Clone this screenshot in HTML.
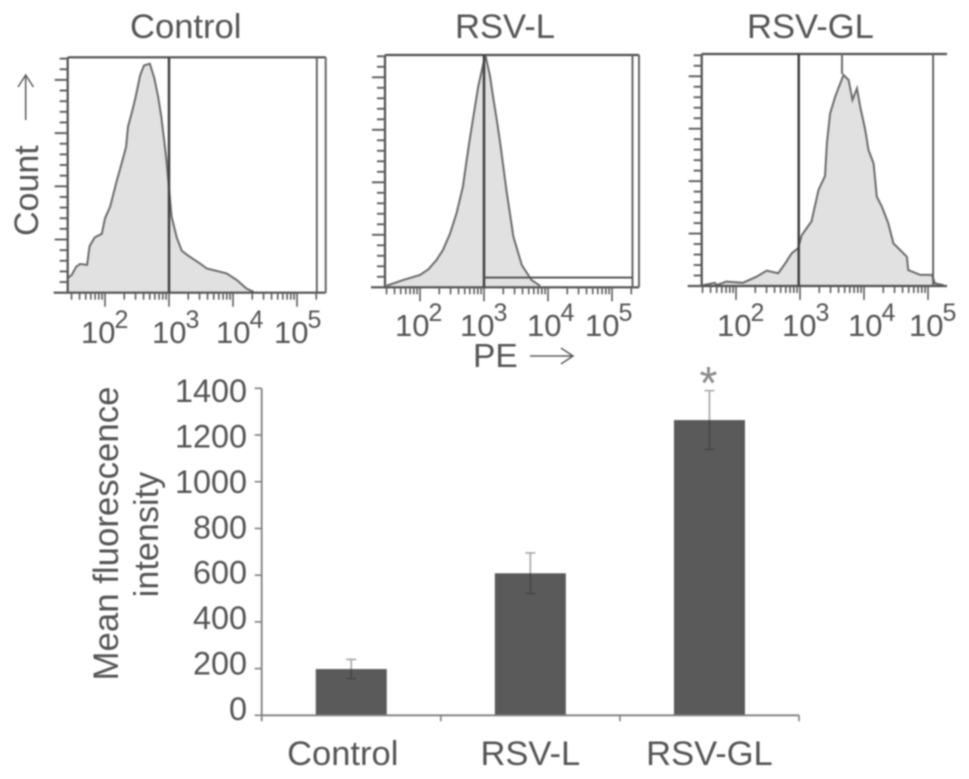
<!DOCTYPE html>
<html lang="en">
<head>
<meta charset="utf-8">
<title>Flow cytometry histograms and mean fluorescence intensity</title>
<style>
html,body{margin:0;padding:0;background:#fff;width:969px;height:779px;overflow:hidden}
svg{display:block;filter:blur(0.7px)}
text{font-family:"Liberation Sans",sans-serif;fill:#555}
</style>
</head>
<body>
<svg id="figure" xmlns="http://www.w3.org/2000/svg" width="969" height="779" viewBox="0 0 969 779">
  <text x="130" y="38" font-size="34.6">Control</text>
  <text x="455" y="38" font-size="34.6">RSV-L</text>
  <text x="747" y="38" font-size="34.6">RSV-GL</text>
  <text transform="translate(38 236) rotate(-90)" font-size="34">Count</text>
  <g fill="none" stroke="#5c5c5c" stroke-width="1.5">
    <path d="M25.7 120V76M18 87L25.7 75L33.4 87"/>
  </g>
  <text x="473" y="367" font-size="33.5">PE</text>
  <g fill="none" stroke="#5c5c5c" stroke-width="1.5">
    <path d="M530 356H573M561 348L573 356L561 364"/>
  </g>
  <g id="histograms"></g>
  <text transform="translate(118 533.5) rotate(-90)" text-anchor="middle" font-size="34.8">Mean fluorescence</text>
  <text transform="translate(158 534.5) rotate(-90)" text-anchor="middle" font-size="34.2">intensity</text>
  <g id="bars"></g>
</svg>
<script>
// Histogram data: log10(PE) and count as a percentage of the frame height
const controlLogPE = [1.43,1.48,1.55,1.61,1.72,1.76,1.84,1.95,2.0,2.08,2.12,2.18,2.26,2.33,2.36,2.43,2.48,2.55,2.61,2.70,2.77,2.83,2.88,2.93,2.96,3.0,3.04,3.12,3.20,3.30,3.48,3.59,3.90,4.06,4.21,4.32];
const controlCount = [6.5,7.5,11.0,12.2,11.8,19.8,23.5,25,31.6,36.5,40.8,47.1,54.9,62,70.5,77.6,83.3,92.5,96.5,97.3,91.2,83.3,74.8,63.5,56.4,44.4,32.3,23.5,17.8,15.7,12.5,10.3,8.2,5.4,1.8,0.4];
const rsvLLogPE = [1.48,1.74,2.0,2.13,2.26,2.36,2.47,2.57,2.67,2.76,2.81,2.91,2.99,3.03,3.09,3.15,3.20,3.25,3.35,3.46,3.59,3.74,3.88];
const rsvLCount = [0.7,3.2,5.3,7.7,11.8,16.1,23.2,31.8,43.3,60.5,69.2,86.4,96.4,99,91.4,80.6,72,62.7,41.9,21.8,9.6,3.2,0.6];
const rsvGLLogPE = [1.49,1.67,1.70,1.85,2.11,2.32,2.48,2.66,2.77,2.87,2.97,3.03,3.18,3.29,3.39,3.42,3.47,3.55,3.68,3.76,3.82,3.89,3.94,4.02,4.07,4.15,4.20,4.28,4.38,4.46,4.67,4.69,4.88,5.06,5.11,5.24];
const rsvGLCount = [0.4,1.4,0.4,1.9,1.4,4,6.6,5.5,9.8,14.1,16.3,22,27.9,41.5,47.4,61.5,74.4,81.6,91,88.8,80.2,85.2,77.3,67.2,58.6,52.8,38.5,34.2,27,18.4,12.6,6.9,4.8,4.8,1.1,0.4];
const decadeExponents = [2,3,4,5];
const decadeLabels = ['10','10','10','10'];

// Bar chart data
const categories = ['Control','RSV-L','RSV-GL'];
const meanValues = [198,608,1264];
const errorValues = [41,87,126];
const yTickValues = [0,200,400,600,800,1000,1200,1400];

const SVGNS = 'http://www.w3.org/2000/svg';
function make(parent, tag, attrs, text) {
  const el = document.createElementNS(SVGNS, tag);
  for (const k in attrs) el.setAttribute(k, attrs[k]);
  if (text !== undefined) el.textContent = text;
  parent.appendChild(el);
  return el;
}
function line(parent, x1, y1, x2, y2, stroke, width) {
  return make(parent, 'line', {x1: x1, y1: y1, x2: x2, y2: y2, stroke: stroke, 'stroke-width': width});
}

const histRoot = document.getElementById('histograms');
const panels = [
  {key:'control', logs:controlLogPE, counts:controlCount, x100:105, left:67.7, right:325.7, top:57.3, bottom:292.7, gate:3.0, upper:5.31, hGate:null, frameRight:true, labelXs:[-24,-17,-17,-23], labelY:343, supY:328},
  {key:'rsv-l', logs:rsvLLogPE, counts:rsvLCount, x100:420, left:385, right:639, top:55, bottom:287.3, gate:3.0, upper:5.32, hGate:4.2, frameRight:true, labelXs:[-25,-24,-21,-27], labelY:336, supY:321},
  {key:'rsv-gl', logs:rsvGLLogPE, counts:rsvGLCount, x100:736, left:701.7, right:947, top:54, bottom:286, gate:2.98, upper:5.08, hGate:null, frameRight:false, labelXs:[-19,-18,-16,-19], labelY:336, supY:321}
];

panels.forEach(function (p) {
  const xScale = function (logV) { return p.x100 + (logV - 2) * 64; };
  const yScale = function (c) { return p.bottom - (c / 100) * (p.bottom - p.top); };
  const g = make(histRoot, 'g', {});
  
  

  // filled curve
  const pts = p.logs.map(function (v, i) { return xScale(v).toFixed(1) + ',' + yScale(p.counts[i]).toFixed(1); });
  const first = xScale(p.logs[0]).toFixed(1);
  const last = xScale(p.logs[p.logs.length - 1]).toFixed(1);
  const area = make(g, 'polygon', {points: first + ',' + p.bottom + ' ' + pts.join(' ') + ' ' + last + ',' + p.bottom, fill: '#e1e1e1', stroke: 'none'});
  
  
  const curve = make(g, 'polyline', {points: pts.join(' '), fill: 'none', stroke: '#6c6c6c', 'stroke-width': 2});
  
  

  // frame
  const frameTop = line(g, p.left, p.top, p.right, p.top, '#505050', 2.2);
  
  
  const yAxis = line(g, p.left, p.top, p.left, p.bottom, '#505050', 2.2);
  
  
  const xAxis = line(g, p.left - 14, p.bottom, p.right, p.bottom, '#505050', 2.2);
  
  
  if (p.frameRight) {
    const fr = line(g, p.right, p.top, p.right, p.bottom, '#666', 2);
    
    
  }

  // gates
  const gate = line(g, xScale(p.gate), p.top, xScale(p.gate), p.bottom, '#404040', 2.5);
  
  
  const upper = line(g, xScale(p.upper), p.top, xScale(p.upper), p.bottom, '#606060', 1.9);
  
  
  if (p.hGate !== null) {
    const hg = line(g, xScale(p.gate), yScale(p.hGate), xScale(p.upper), yScale(p.hGate), '#505050', 1.9);
    
    
  }

  // y ticks
  for (let i = 0; i * 4.52 <= 100; i++) {
    const major = i % 5 === 0;
    const y = yScale(i * 4.52);
    const t = line(g, p.left - (major ? 13 : 8), y, p.left, y, '#5c5c5c', 1.9);
    
    
  }

  // x ticks (log decades)
  [1,2,3,4,5].forEach(function (d) {
    for (let m = 1; m < 10; m++) {
      const lv = d + Math.log10(m);
      const x = xScale(lv);
      if (x <= p.left || x > p.right) continue;
      const t = line(g, x, p.bottom, x, p.bottom + (m === 1 ? 14 : 7), '#5c5c5c', 1.6);
      
      
    }
  });

  // decade labels
  decadeExponents.forEach(function (d, i) {
    const x = xScale(d) + p.labelXs[i];
    const base = make(g, 'text', {x: x, y: p.labelY, 'font-size': 31}, decadeLabels[i]);
    
    
    const sup = make(g, 'text', {x: x + 33.5, y: p.supY, 'font-size': 25}, String(d));
    
    
  });

  if (p.key === 'rsv-gl') {
    const spike = line(g, 842, p.top, 842, p.top + 20, '#6c6c6c', 2);
    
    
  }
});

// Bar chart
const barRoot = document.getElementById('bars');
const axisLeft = 261.7, axisRight = 799, y0 = 715.3, yTop = 388.3, yMax = 1400, barWidth = 71;
const bandWidth = (axisRight - axisLeft) / categories.length;
const xBand = function (i) { return axisLeft + bandWidth * (i + 0.5); };
const yVal = function (v) { return y0 - (v / yMax) * (y0 - yTop); };
const yLabel = function (v) { return 720 - (v / yMax) * 318; };

meanValues.forEach(function (v, i) {
  const bar = make(barRoot, 'rect', {x: xBand(i) - barWidth / 2, y: yVal(v), width: barWidth, height: y0 - yVal(v), fill: '#5a5a5a'});
  
  
});
errorValues.forEach(function (e, i) {
  const cx = xBand(i);
  const hi = yVal(meanValues[i] + e);
  const lo = yVal(meanValues[i] - e);
  const eb = make(barRoot, 'path', {d: 'M' + cx + ' ' + hi + 'V' + lo + 'M' + (cx - 5) + ' ' + hi + 'H' + (cx + 5) + 'M' + (cx - 5) + ' ' + lo + 'H' + (cx + 5), fill: 'none', stroke: '#2a2a2a', 'stroke-opacity': 0.42, 'stroke-width': 1.6});
  
  
});

const barYAxis = line(barRoot, axisLeft, yTop, axisLeft, y0 + 6, '#808080', 1.8);


const barXAxis = line(barRoot, axisLeft, y0, axisRight, y0, '#808080', 1.8);



yTickValues.forEach(function (v) {
  const t = line(barRoot, axisLeft - 7, yVal(v), axisLeft, yVal(v), '#808080', 1.6);
  
  
  const lbl = make(barRoot, 'text', {x: 247, y: yLabel(v), 'text-anchor': 'end', 'font-size': 32.4}, String(v));
  
  
});
categories.forEach(function (c, i) {
  const edge = axisLeft + bandWidth * (i + 1);
  const t = line(barRoot, edge, y0, edge, y0 + 6, '#808080', 1.6);
  
  
  const lbl = make(barRoot, 'text', {x: xBand(i) + (i === 0 ? -8.5 : 0), y: 765, 'text-anchor': 'middle', 'font-size': 34.5}, c);
  
  
});
const star = make(barRoot, 'text', {x: xBand(2) - 1, y: 399, 'text-anchor': 'middle', 'font-size': 46, style: 'fill:#8a8a8a'}, '*');


</script>
</body>
</html>
